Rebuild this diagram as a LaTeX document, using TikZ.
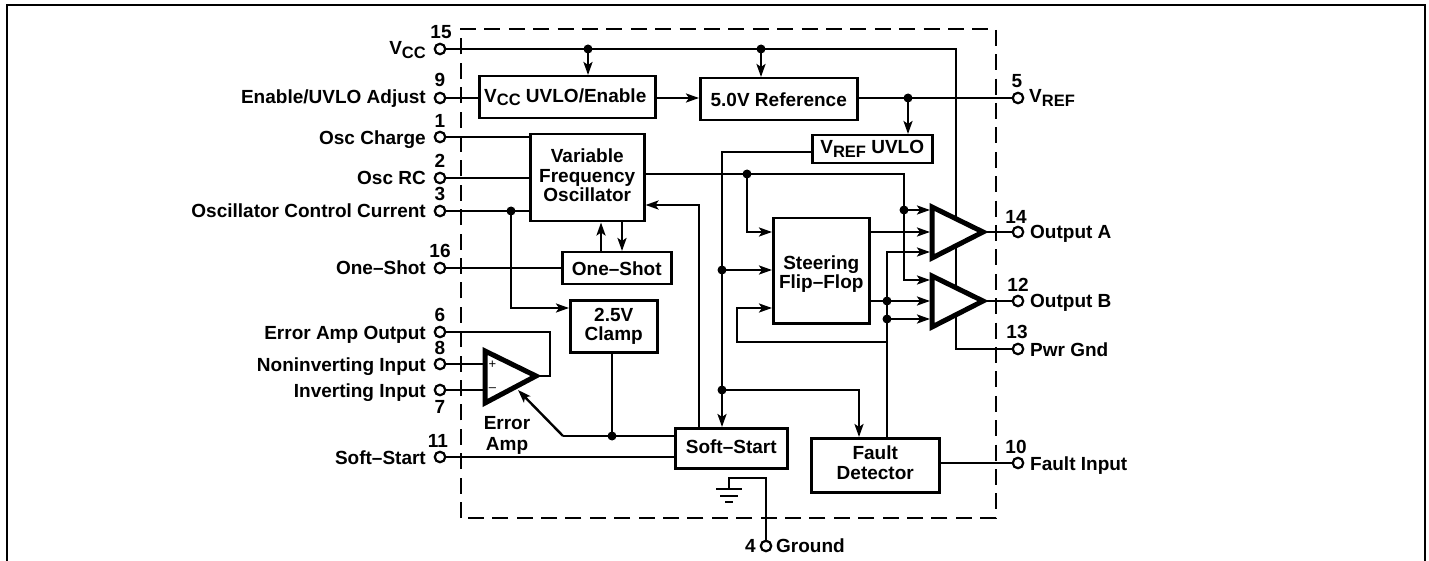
\documentclass[tikz,border=0pt]{standalone}
\usepackage{fontspec}
\setmainfont{Liberation Sans}
\usetikzlibrary{arrows.meta}
\newcommand{\sbs}[1]{\raisebox{-0.2em}{\fontsize{16.5}{18}\selectfont #1}}
\tikzset{
  x=1pt,y=-1pt,
  wire/.style={line width=2.4pt,line cap=butt,line join=miter},
  arr/.style={wire,-{Stealth[length=13pt,width=9pt,inset=3pt]}},
  block/.style={draw,line width=2.5pt,fill=white,font=\fontsize{19}{19.5}\selectfont\bfseries,align=center,inner sep=0pt,anchor=north west},
  pin/.style={circle,draw,line width=2.2pt,fill=white,minimum size=10.5pt,inner sep=0pt},
  junction/.style={circle,fill=black,minimum size=9pt,inner sep=0pt},
  lab/.style={font=\fontsize{19}{21}\selectfont\bfseries,inner sep=0pt,align=center},
  amp/.style={draw,line width=5pt,fill=white,line join=miter},
}
\newcommand{\blockat}[7][]{\node[block,minimum width=#5pt-#3pt,minimum height=#6pt-#4pt,#1] (#2) at (#3,#4) {#7};}
\begin{document}
\begin{tikzpicture}
\useasboundingbox (0,0) rectangle (1429,561);
\draw[line width=2pt] (7,561) -- (7,5) -- (1425,5) -- (1425,561);
\draw[line width=2.4pt,dash pattern=on 16pt off 8.4pt] (461,518) -- (461,29) -- (996,29) -- (996,518) -- cycle;

% pins
\foreach \n/\x/\y in {p15/440/49,p9/440/98,p1/440/137,p2/440/178,p3/440/211,p16/440/268,p6/440/332,p8/440/364,p7/440/390,p11/440/457,p5/1018/98,p14/1018/232,p12/1018/301,p13/1018/349,p10/1018/463,p4/766/546}
  \node[pin] (\n) at (\x,\y) {};

% blocks
\blockat{uvlo}{478}{75}{654}{117}{V\sbs{CC} UVLO/Enable\hspace*{4pt}}
\blockat{ref}{699}{77}{856}{119}{5.0V Reference}
\blockat{vuvlo}{811}{134}{931}{162}{V\sbs{REF} UVLO}
\blockat[text depth=5pt]{vfo}{529}{133}{643}{220}{Variable\\Frequency\\Oscillator}
\blockat{osh}{561}{251}{670}{283}{One–Shot}
\blockat{clamp}{569}{299}{656}{351}{2.5V\\Clamp}
\blockat[text depth=4pt]{ss}{674}{427}{786}{467}{Soft–Start}
\blockat{flip}{772}{217}{868}{322}{\rule{0pt}{20pt}Steering\\Flip–Flop}
\blockat[text depth=5pt]{fault}{810}{437}{938}{491}{Fault\\Detector}

% coordinates
\coordinate (j1) at (588,49);
\coordinate (j2) at (761,49);
\coordinate (j3) at (908,98);
\coordinate (j4) at (511,211);
\coordinate (j5) at (747,174);
\coordinate (j6) at (904,210);
\coordinate (j7) at (722,270);
\coordinate (j8) at (722,390);
\coordinate (j9) at (887,301);
\coordinate (j10) at (887,319);
\coordinate (j11) at (612,436);

% wires
\draw[wire] (p15) -- (956,49) -- (956,349) -- (p13);
\draw[arr] (j1) -- (j1 |- uvlo.north);
\draw[arr] (j2) -- (j2 |- ref.north);
\draw[wire] (p9) -- (p9 -| uvlo.west);
\draw[arr] (p9 -| uvlo.east) -- (p9 -| ref.west);
\draw[wire] (ref.east |- p5) -- (p5);
\draw[arr] (j3) -- (j3 |- vuvlo.north);
\draw[wire] (p1) -- (p1 -| vfo.west);
\draw[wire] (p2) -- (p2 -| vfo.west);
\draw[wire] (p3) -- (p3 -| vfo.west);
\draw[arr] (j4) |- (clamp.west |- 0,308);
\draw[wire] (p16) -- (p16 -| osh.west);
\draw[arr] (osh.north -| 601,0) -- (vfo.south -| 601,0);
\draw[arr] (vfo.south -| 622,0) -- (osh.north -| 622,0);
\draw[wire] (clamp.south -| j11) -- (j11);
\draw[wire] (ss.west |- j11) -- (563,436);
\draw[arr] (563,436) -- (518,390);
\draw[wire] (p11) -- (p11 -| ss.west);
\draw[arr] (ss.north -| 699,0) -- (699,205) -- (vfo.east |- 0,205);
\draw[arr] (vuvlo.west |- 0,152) -- (722,152) -- (ss.north -| 722,0);
\draw[arr] (j7) -- (flip.west |- j7);
\draw[arr] (j8) -- (859,390) -- (fault.north -| 859,0);
\draw[arr] (vfo.east |- j5) -- (904,174) |- (930,280);
\draw[arr] (j5) |- (flip.west |- 0,232);
\draw[arr] (j6) -- (930,210);
\draw[arr] (flip.east |- 0,232) -- (930,232);
\draw[arr] (flip.east |- j9) -- (930,301);
\draw[arr] (fault.north -| j9) -- (887,252) -- (930,252);
\draw[arr] (j10) -- (930,319);
\draw[arr] (887,342) -- (737,342) -- (737,308) -- (flip.west |- 0,308);
\draw[wire] (fault.east |- p10) -- (p10);
\draw[wire] (983,232) -- (p14);
\draw[wire] (983,301) -- (p12);
\draw[wire] (p6) -- (550,332) -- (550,376) -- (537,376);
\draw[wire] (p8) -- (484,364);
\draw[wire] (p7) -- (484,390);
% ground
\draw[wire] (p4) -- (766,478) -- (729,478) -- (729,489);
\draw[wire] (716,489) -- (742,489);
\draw[wire] (720,496) -- (738,496);
\draw[wire] (725,502) -- (733,502);

% amplifiers
\draw[amp] (932,207) -- (983,232) -- (932,258) -- cycle;
\draw[amp] (932,276) -- (983,301) -- (932,327) -- cycle;
\draw[amp] (485,351) -- (536,376) -- (485,403) -- cycle;
\node[font=\fontsize{13}{13}\selectfont,inner sep=0pt] (plus) at (492.5,364.5) {+};
\node[font=\fontsize{13}{13}\selectfont,inner sep=0pt] (minus) at (492.5,390) {–};

% junctions
\foreach \j in {j1,j2,j3,j4,j5,j6,j7,j8,j9,j10,j11} \node[junction] at (\j) {};

% texts
\foreach \t/\x/\y in {15/441/32,9/440/80,1/440/121,2/440/161,3/440/194,16/440/251,6/440/315,8/440/348,7/440/407,11/438/441,14/1016/217,12/1018/285,13/1017/332,10/1016/447,5/1017/81}
  \node[lab] at (\x,\y) {\t};
\node[lab,anchor=base east] at (756,552) {4};
\foreach \t/\y in {{Enable/UVLO Adjust}/104,{Osc Charge}/145,{Osc RC}/185,{Oscillator Control Current}/218,{One–Shot}/275,{Error Amp Output}/339,{Noninverting Input}/371,{Inverting Input}/397,{Soft–Start}/464}
  \node[lab,anchor=base east] at (426,\y) {\t};
\node[lab,anchor=base east] at (426,55) {V\sbs{CC}};
\node[lab,anchor=base west] at (1029,103) {V\sbs{REF}};
\node[lab,anchor=base west] at (1030,239) {Output A};
\node[lab,anchor=base west] at (1030,308) {Output B};
\node[lab,anchor=base west] at (1030,356) {Pwr Gnd};
\node[lab,anchor=base west] at (1030,470) {Fault Input};
\node[lab,anchor=base west] at (776,552) {Ground};
\node[lab] at (507,435.5) {Error\\Amp};
\end{tikzpicture}
\end{document}
